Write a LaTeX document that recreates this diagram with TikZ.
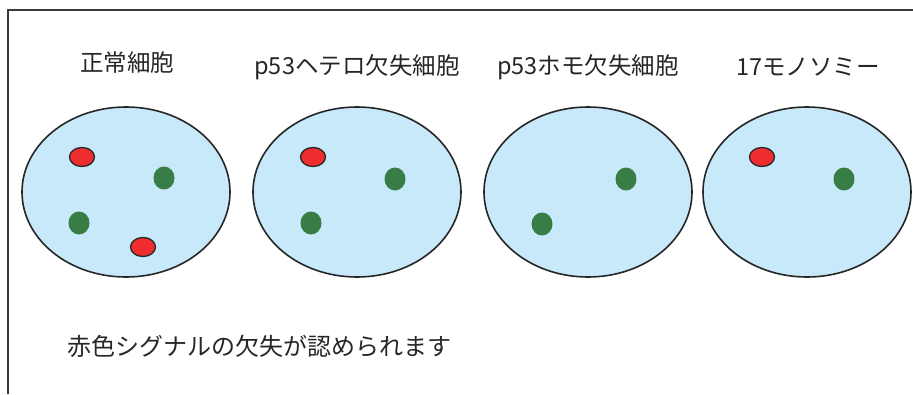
\documentclass[tikz,border=0pt]{standalone}
\usepackage{fontspec}
\setmainfont{Noto Sans CJK JP}
\usetikzlibrary{shapes.geometric}
\definecolor{cellblue}{HTML}{C8E9F9}
\definecolor{sigred}{HTML}{EE2E2E}
\definecolor{siggreen}{HTML}{387D45}
\definecolor{framegray}{HTML}{3A3A3A}
\begin{document}
\begin{tikzpicture}[
  x=1pt, y=-1pt,
  cell/.style={ellipse, draw=black!85, line width=1.6pt, fill=cellblue, minimum width=208pt, minimum height=170pt},
  redsig/.style={ellipse, draw=black!85, line width=1.3pt, fill=sigred, minimum width=25pt, minimum height=19pt, inner sep=0pt},
  greensig/.style={ellipse, fill=siggreen, minimum width=21pt, minimum height=23pt, inner sep=0pt},
  title/.style={font=\fontsize{23.5}{28}\selectfont, text=black!85}
]
\useasboundingbox (0,0) rectangle (913,394);

% frame
\draw[framegray, line width=1.5pt] (8,394) -- (8,10) -- (913,10);

% Normal cell
\node[title] (t_norm) at (127,63) {正常細胞};
\node[cell] (c_norm) at (126,192) {};
\node[redsig] (r1_norm) at (82,157) {};
\node[redsig] (r2_norm) at (143,247) {};
\node[greensig] (g1_norm) at (164,178) {};
\node[greensig] (g2_norm) at (79,223) {};

% p53 hetero deletion
\node[title] (t_het) at (357,67) {p53ヘテロ欠失細胞};
\node[cell] (c_het) at (357,192) {};
\node[redsig] (r1_het) at (313,157) {};
\node[greensig] (g1_het) at (395,179) {};
\node[greensig] (g2_het) at (311,223) {};

% p53 homo deletion
\node[title] (t_hom) at (588,67) {p53ホモ欠失細胞};
\node[cell] (c_hom) at (588,192) {};
\node[greensig] (g1_hom) at (626,179) {};
\node[greensig] (g2_hom) at (542,224) {};

% monosomy 17
\node[title] (t_mono) at (808,67) {17モノソミー};
\node[cell] (c_mono) at (807,192) {};
\node[redsig] (r1_mono) at (762,157) {};
\node[greensig] (g1_mono) at (844,179) {};

\node[title, font=\fontsize{24}{28}\selectfont, anchor=west] (note) at (64,346) {赤色シグナルの欠失が認められます};

\end{tikzpicture}
\end{document}
